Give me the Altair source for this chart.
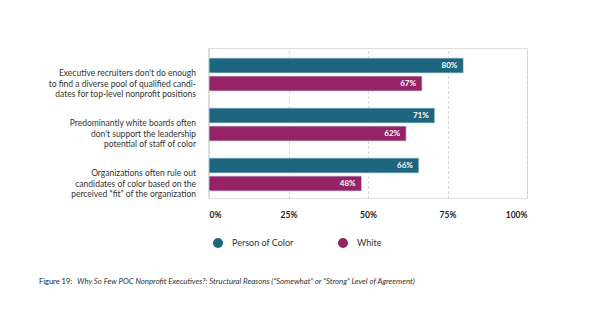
import altair as alt
import pandas as pd

categories = [
    "Executive recruiters don't do enough\nto find a diverse pool of qualified candi-\ndates for top-level nonprofit positions",
    "Predominantly white boards often\ndon't support the leadership\npotential of staff of color",
    "Organizations often rule out\ncandidates of color based on the\nperceived \u201cfit\u201d of the organization",
]
series = ["Person of Color", "White"]
poc_values = [80, 71, 66]
white_values = [67, 62, 48]
ticks = [0, 25, 50, 75, 100]
caption_label = "Figure 19:"
caption_text = "Why So Few POC Nonprofit Executives?: Structural Reasons (\u201cSomewhat\u201d or \u201cStrong\u201d Level of Agreement)"

colors = ["#1e6680", "#952366"]
FONT = "Lato"

rows = []
for c, p, w in zip(categories, poc_values, white_values):
    rows.append({"cat": c, "group": series[0], "value": p})
    rows.append({"cat": c, "group": series[1], "value": w})
df = pd.DataFrame(rows)

y_enc = alt.Y("cat:N", sort=categories, axis=None,
              scale=alt.Scale(paddingInner=0, paddingOuter=0))
yoff = alt.YOffset("group:N", sort=series,
                   scale=alt.Scale(paddingInner=1/6, paddingOuter=0.472, align=0.59))
x_enc = alt.X("value:Q", scale=alt.Scale(domain=[0, 100]),
              axis=alt.Axis(values=ticks, labelExpr="datum.value + '%'", title=None,
                            grid=True, gridDash=[2, 3], gridColor="#c8c8c8",
                            domain=False, ticks=False, labelPadding=12,
                            labelFont=FONT, labelFontSize=8.5, labelFontWeight="bold",
                            labelColor="#222"))

base = alt.Chart(df)

zero = alt.Chart(pd.DataFrame({"v": [0]})).mark_rule(color="#dcdcdc", strokeWidth=2).encode(
    x=alt.X("v:Q", scale=alt.Scale(domain=[0, 100])))

bars = base.mark_bar(stroke="#c9dde4", strokeWidth=0.8).encode(
    x=x_enc,
    y=y_enc,
    yOffset=yoff,
    color=alt.Color("group:N", sort=series,
                    scale=alt.Scale(domain=series, range=colors),
                    legend=alt.Legend(title=None, orient="none", direction="horizontal",
                                      legendX=4, legendY=190, symbolType="circle",
                                      symbolSize=100, symbolStrokeWidth=0, labelOffset=9,
                                      columnPadding=44, labelFont=FONT, labelFontSize=9,
                                      labelColor="#333")),
)

labels = base.transform_calculate(lbl="datum.value + '%'").mark_text(
    align="right", dx=-6, color="white", font=FONT, fontSize=8, fontWeight="bold").encode(
    x="value:Q", y=y_enc, yOffset=yoff, text="lbl:N",
)

cat_labels = alt.Chart(pd.DataFrame({"cat": categories})).mark_text(
    align="right", baseline="middle", lineBreak="\n", font=FONT, fontSize=8.5,
    lineHeight=10.5, color="#333").encode(
    y=alt.Y("cat:N", sort=categories, axis=None,
            scale=alt.Scale(paddingInner=0, paddingOuter=0)),
    x=alt.value(-13),
    text="cat:N",
)

cap1 = alt.Chart(pd.DataFrame({"t": [caption_label]})).mark_text(
    align="left", baseline="middle", font=FONT, fontSize=7.5, color="#222").encode(
    x=alt.value(-170), y=alt.value(234), text="t:N")
cap2 = alt.Chart(pd.DataFrame({"t": [caption_text]})).mark_text(
    align="left", baseline="middle", font=FONT, fontSize=7.8, color="#333", fontStyle="italic").encode(
    x=alt.value(-132), y=alt.value(234), text="t:N")

chart = alt.layer(zero, bars, labels, cat_labels, cap1, cap2).properties(
    width=318, height=150,
    padding={"left": 209, "top": 48, "right": 69, "bottom": 137},
    autosize=alt.AutoSizeParams(type="none"),
).configure_view(stroke=None).configure(background="white")

chart.save("out.html", embed_options={"renderer": "svg", "actions": False})
